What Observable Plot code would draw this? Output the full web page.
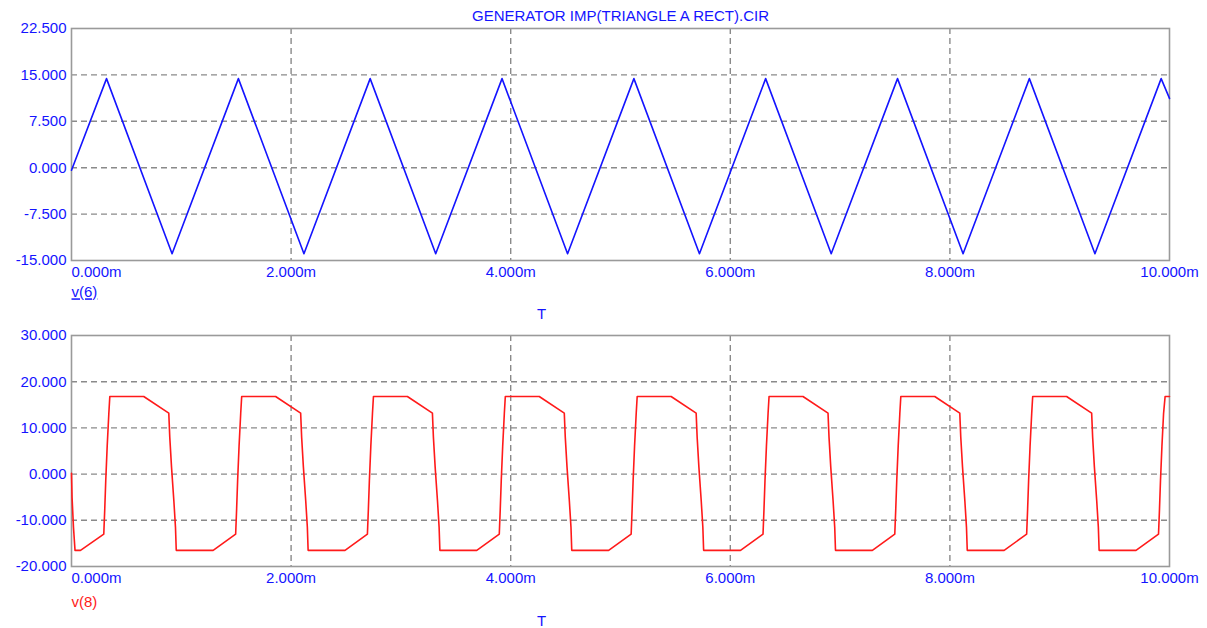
<!DOCTYPE html>
<html>
<head>
<meta charset="utf-8">
<script src="https://cdn.jsdelivr.net/npm/d3@7"></script>
<script src="https://cdn.jsdelivr.net/npm/@observablehq/plot@0.6"></script>
<style>
  html, body { margin: 0; padding: 0; background: #ffffff; }
  #chart svg { display: block; }
</style>
</head>
<body>
<div id="chart"></div>
<script>
// ---- Data ----
const title = "GENERATOR IMP(TRIANGLE A RECT).CIR";

// v(6): triangle wave vertices (time in ms, volts)
const tV6 = [0, 0.319, 0.916, 1.520, 2.117, 2.720, 3.317, 3.921, 4.518, 5.122, 5.719, 6.322, 6.919, 7.523, 8.120, 8.724, 9.321, 9.924, 10.0];
const vV6 = [-0.4, 14.4, -13.9, 14.4, -13.9, 14.4, -13.9, 14.4, -13.9, 14.4, -13.9, 14.4, -13.9, 14.4, -13.9, 14.4, -13.9, 14.4, 11.2];

// v(8): rectangle wave vertices (time in ms, volts)
const tV8 = [
  0, 0.005, 0.018, 0.032, 0.082,
  0.294, 0.303, 0.312, 0.325, 0.340, 0.349, 0.658, 0.886, 0.895, 0.911, 0.932, 0.947, 0.954, 1.290,
  1.495, 1.504, 1.513, 1.526, 1.541, 1.550, 1.859, 2.087, 2.096, 2.112, 2.133, 2.148, 2.155, 2.491,
  2.695, 2.704, 2.713, 2.726, 2.741, 2.750, 3.059, 3.287, 3.296, 3.312, 3.333, 3.348, 3.355, 3.691,
  3.896, 3.905, 3.914, 3.927, 3.942, 3.951, 4.260, 4.488, 4.497, 4.513, 4.534, 4.549, 4.556, 4.892,
  5.097, 5.106, 5.115, 5.128, 5.143, 5.152, 5.461, 5.689, 5.698, 5.714, 5.735, 5.750, 5.757, 6.093,
  6.298, 6.307, 6.316, 6.329, 6.344, 6.353, 6.662, 6.890, 6.899, 6.915, 6.936, 6.951, 6.958, 7.294,
  7.498, 7.507, 7.516, 7.529, 7.544, 7.553, 7.862, 8.090, 8.099, 8.115, 8.136, 8.151, 8.158, 8.494,
  8.699, 8.708, 8.717, 8.730, 8.745, 8.754, 9.063, 9.291, 9.300, 9.316, 9.337, 9.352, 9.359, 9.695,
  9.900, 9.909, 9.918, 9.931, 9.946, 9.960, 10.0
];
const vV8 = [
  0.2, -5, -11.5, -16.5, -16.5,
  -13.0, -7.5, -1.4, 6, 13.1, 16.8, 16.8, 13.2, 8, 1.5, -5.7, -11.5, -16.5, -16.5,
  -13.0, -7.5, -1.4, 6, 13.1, 16.8, 16.8, 13.2, 8, 1.5, -5.7, -11.5, -16.5, -16.5,
  -13.0, -7.5, -1.4, 6, 13.1, 16.8, 16.8, 13.2, 8, 1.5, -5.7, -11.5, -16.5, -16.5,
  -13.0, -7.5, -1.4, 6, 13.1, 16.8, 16.8, 13.2, 8, 1.5, -5.7, -11.5, -16.5, -16.5,
  -13.0, -7.5, -1.4, 6, 13.1, 16.8, 16.8, 13.2, 8, 1.5, -5.7, -11.5, -16.5, -16.5,
  -13.0, -7.5, -1.4, 6, 13.1, 16.8, 16.8, 13.2, 8, 1.5, -5.7, -11.5, -16.5, -16.5,
  -13.0, -7.5, -1.4, 6, 13.1, 16.8, 16.8, 13.2, 8, 1.5, -5.7, -11.5, -16.5, -16.5,
  -13.0, -7.5, -1.4, 6, 13.1, 16.8, 16.8, 13.2, 8, 1.5, -5.7, -11.5, -16.5, -16.5,
  -13.0, -7.5, -1.4, 6, 13.1, 16.8, 16.8
];

// Axis ticks
const xTicks = [0, 2, 4, 6, 8, 10];
const xGrid = [2, 4, 6, 8];
const yTicksTop = [-15, -7.5, 0, 7.5, 15, 22.5];
const yGridTop = [-7.5, 0, 7.5, 15];
const yTicksBottom = [-20, -10, 0, 10, 20, 30];
const yGridBottom = [-10, 0, 10, 20];

const BLUE = "#1414ff";
const RED = "#ff1a1a";
const GRID = "#8a8a8a";
const FRAME = "#9a9a9a";
const FONT = "'Liberation Sans', Arial, sans-serif";

const fmtY = d => d.toFixed(3);
const fmtX = d => d.toFixed(3) + "m";

function panel({height, marginTop, marginBottom, yDomain, yTicks, yGrid, t, v, color, label, labelColor, labelDy, tDy, extra}) {
  return Plot.plot({
    width: 1207,
    height,
    marginLeft: 71,
    marginRight: 38,
    marginTop,
    marginBottom,
    style: {fontFamily: FONT, fontSize: "15px", background: "#ffffff", overflow: "visible"},
    x: {domain: [0, 10], axis: null},
    y: {domain: yDomain, axis: null},
    marks: [
      Plot.gridY(yGrid, {stroke: GRID, strokeOpacity: 1, strokeWidth: 1.4, strokeDasharray: "6,4"}),
      Plot.gridX(xGrid, {stroke: GRID, strokeOpacity: 1, strokeWidth: 1.4, strokeDasharray: "6,4"}),
      Plot.frame({stroke: FRAME, strokeWidth: 1.6}),
      Plot.line(t, {x: d => d, y: (d, i) => v[i], stroke: color, strokeWidth: 1.6}),
      Plot.axisY(yTicks, {tickSize: 0, tickPadding: 5, tickFormat: fmtY, fill: BLUE, fontSize: 15}),
      Plot.axisX([0], {tickSize: 0, tickPadding: 6, tickFormat: fmtX, fill: BLUE, textAnchor: "start", fontSize: 15}),
      Plot.axisX(xTicks.slice(1), {tickSize: 0, tickPadding: 6, tickFormat: fmtX, fill: BLUE, fontSize: 15}),
      Plot.text([label], {frameAnchor: "bottom-left", dy: labelDy, textAnchor: "start", lineAnchor: "middle", fill: labelColor, fontSize: 15}),
      Plot.text(["T"], {frameAnchor: "bottom-left", dx: 470, dy: tDy, textAnchor: "middle", lineAnchor: "middle", fill: BLUE, fontSize: 15}),
      ...(extra || [])
    ]
  });
}

const topPanel = panel({
  height: 320, marginTop: 28, marginBottom: 60,
  yDomain: [-15, 22.5], yTicks: yTicksTop, yGrid: yGridTop,
  t: tV6, v: vV6, color: BLUE, label: "v(6)", labelColor: BLUE, labelDy: 32, tDy: 54,
  extra: [Plot.text([title], {frameAnchor: "top", dy: -12, lineAnchor: "middle", fill: BLUE, fontSize: 15})]
});
const bottomPanel = panel({
  height: 308, marginTop: 15, marginBottom: 62,
  yDomain: [-20, 30], yTicks: yTicksBottom, yGrid: yGridBottom,
  t: tV8, v: vV8, color: RED, label: "v(8)", labelColor: RED, labelDy: 36, tDy: 55
});

// underline the v(6) legend label
d3.select(topPanel).selectAll("text").filter(function() { return this.textContent === "v(6)"; })
  .attr("text-decoration", "underline");

document.getElementById("chart").append(topPanel, bottomPanel);
</script>
</body>
</html>
